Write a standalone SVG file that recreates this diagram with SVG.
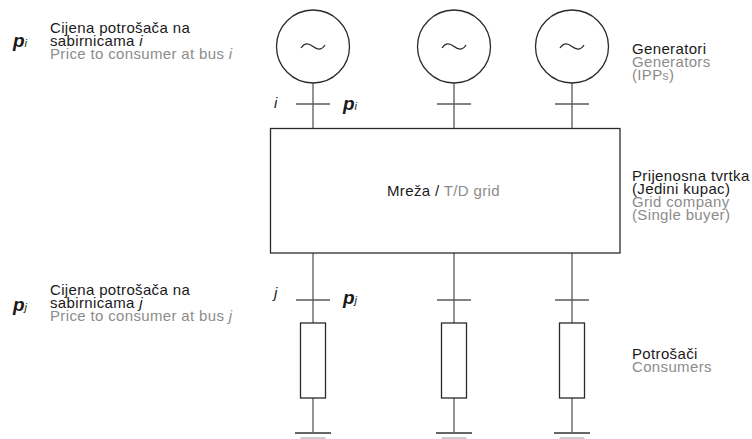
<svg xmlns="http://www.w3.org/2000/svg" width="752" height="439" viewBox="0 0 752 439">
<style>
text{font-family:"Liberation Sans",Arial,sans-serif;font-size:15px;letter-spacing:0.35px;fill:#1a1a1a}
.g{fill:#8c8c8c}
.it{font-style:italic}
.p{font-size:19px;font-weight:bold;font-style:italic;letter-spacing:0}
.sub{font-size:11px;font-weight:normal;font-style:italic}
.sym{fill:none;stroke:#2a2a2a;stroke-width:1.3}
.ln{fill:none;stroke:#5a5a5a;stroke-width:1.3}
.gnd{stroke:#666;stroke-width:2}
.gnd2{stroke:#bbb;stroke-width:1.5}
</style>
<g id="connectors">
<line class="ln" x1="313" y1="83" x2="313" y2="128"/>
<line class="ln" x1="454" y1="83" x2="454" y2="128"/>
<line class="ln" x1="572" y1="83" x2="572" y2="128"/>
<line class="ln" x1="296" y1="104" x2="330" y2="104"/>
<line class="ln" x1="437" y1="104" x2="471" y2="104"/>
<line class="ln" x1="555" y1="104" x2="589" y2="104"/>
<line class="ln" x1="313" y1="253" x2="313" y2="323"/>
<line class="ln" x1="454" y1="253" x2="454" y2="323"/>
<line class="ln" x1="572" y1="253" x2="572" y2="323"/>
<line class="ln" x1="296" y1="300" x2="330" y2="300"/>
<line class="ln" x1="437" y1="300" x2="471" y2="300"/>
<line class="ln" x1="555" y1="300" x2="589" y2="300"/>
<line class="ln" x1="313" y1="398" x2="313" y2="433"/>
<line class="ln" x1="454" y1="398" x2="454" y2="433"/>
<line class="ln" x1="572" y1="398" x2="572" y2="433"/>
</g>
<g id="gen1"><circle class="sym" cx="313" cy="46.5" r="36.5"/><path class="sym" d="M301 48 C305 42 309 43.5 313 46.5 S321 51 325 45"/></g>
<g id="gen2"><circle class="sym" cx="454" cy="46.5" r="36.5"/><path class="sym" d="M442 48 C446 42 450 43.5 454 46.5 S462 51 466 45"/></g>
<g id="gen3"><circle class="sym" cx="572" cy="46.5" r="36.5"/><path class="sym" d="M560 48 C564 42 568 43.5 572 46.5 S580 51 584 45"/></g>
<g id="grid"><rect class="sym" x="270.5" y="128.5" width="349.5" height="124.5"/>
<text x="387" y="196">Mreža / <tspan class="g">T/D grid</tspan></text></g>
<g id="load1"><rect class="sym" x="300.5" y="323" width="25" height="75"/><line class="gnd" x1="295" y1="433" x2="331" y2="433"/><line class="gnd2" x1="300.5" y1="438" x2="325.5" y2="438"/></g>
<g id="load2"><rect class="sym" x="441.5" y="323" width="25" height="75"/><line class="gnd" x1="436" y1="433" x2="472" y2="433"/><line class="gnd2" x1="441.5" y1="438" x2="466.5" y2="438"/></g>
<g id="load3"><rect class="sym" x="559.5" y="323" width="25" height="75"/><line class="gnd" x1="554" y1="433" x2="590" y2="433"/><line class="gnd2" x1="559.5" y1="438" x2="584.5" y2="438"/></g>
<g id="labels-top">
<text class="p" x="13" y="47">p<tspan class="sub">i</tspan></text>
<text x="50" y="33">Cijena potrošača na<tspan x="50" dy="13">sabirnicama <tspan class="it">i</tspan></tspan><tspan class="g" x="50" dy="13">Price to consumer at bus <tspan class="it">i</tspan></tspan></text>
<text class="it" x="274" y="108">i</text>
<text class="p" x="343" y="110">p<tspan class="sub">i</tspan></text>
<text x="632" y="54">Generatori<tspan class="g" x="632" dy="13">Generators</tspan><tspan class="g" x="632" dy="13">(IPP<tspan font-size="12">s</tspan>)</tspan></text>
<text x="632" y="181">Prijenosna tvrtka<tspan x="632" dy="13">(Jedini kupac)</tspan><tspan class="g" x="632" dy="13">Grid company</tspan><tspan class="g" x="632" dy="13">(Single buyer)</tspan></text>
</g>
<g id="labels-bottom">
<text class="p" x="13" y="311">p<tspan class="sub">j</tspan></text>
<text x="50" y="295">Cijena potrošača na<tspan x="50" dy="13">sabirnicama <tspan class="it">j</tspan></tspan><tspan class="g" x="50" dy="13">Price to consumer at bus <tspan class="it">j</tspan></tspan></text>
<text class="it" x="274" y="298">j</text>
<text class="p" x="343" y="304">p<tspan class="sub">j</tspan></text>
<text x="632" y="359">Potrošači<tspan class="g" x="632" dy="13">Consumers</tspan></text>
</g>
</svg>
